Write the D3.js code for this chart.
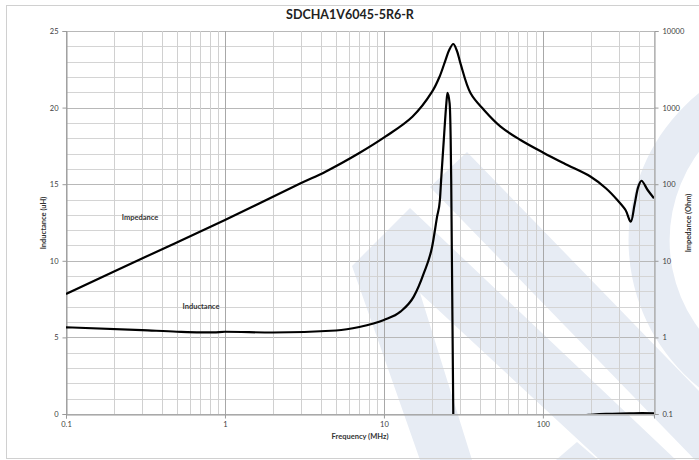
<!DOCTYPE html>
<html><head><meta charset="utf-8">
<script src="https://cdn.jsdelivr.net/npm/d3@7"></script>
<style>body{margin:0;background:#fff}svg{display:block;font-family:Lato,"Open Sans",sans-serif}</style>
</head><body><svg id="c" width="699" height="460"></svg>
<script>
const title = "SDCHA1V6045-5R6-R";
const xTicks = [0.1, 1, 10, 100];
const yLeftTicks = [0, 5, 10, 15, 20, 25];
const yRightTicks = [0.1, 1, 10, 100, 1000, 10000];
// Impedance (Ohm) vs frequency (MHz)
const impFreq = [0.1, 0.315, 1, 2.97, 4.29, 7, 10.2, 15.1, 20.1, 22.5, 24.4, 25.7, 27.3, 28.7, 30.3, 35.1, 42.6, 54.2, 72.3, 100.7, 138, 200, 250, 294, 331, 357, 377, 398, 417, 456, 500];
const impVal  = [3.69, 11.2, 34.1, 102, 145.5, 255, 417, 760, 1614, 2600, 4178, 5600, 6761, 5600, 3784, 1538, 931, 564, 378, 258, 184, 125, 88, 62.2, 46, 32.4, 53.5, 92, 111, 84, 65.5];
// Inductance (uH) vs frequency (MHz)
const indFreq = [0.1, 0.3, 0.5, 0.7, 0.85, 1, 2, 5, 7, 10, 12.7, 15.4, 17.8, 20.1, 21.6, 22.5, 22.9, 23.8, 24.7, 25.1, 25.9, 26.3, 26.5, 27.3, 28, 30, 40, 60, 100, 200, 250, 350, 420, 500];
const indVal  = [5.66, 5.48, 5.37, 5.33, 5.33, 5.37, 5.32, 5.45, 5.68, 6.14, 6.68, 7.66, 9.18, 10.92, 12.88, 13.97, 15.27, 17.88, 20.28, 20.97, 20.28, 17.88, 15.27, 0.2, -20, -18, -3, -1, -0.4, -0.05, 0.01, 0.04, 0.06, 0.05];

const svg = d3.select("#c");
const m = {l:66, t:31, r:654, b:414};
const x = d3.scaleLog().domain([0.1, 500]).range([m.l, m.r]);
const yL = d3.scaleLinear().domain([0, 25]).range([m.b, m.t]);
const yR = d3.scaleLog().domain([0.1, 10000]).range([m.b, m.t]);

// watermark
const wm = svg.append("g").attr("fill", "#e7ecf4");
wm.append("path").attr("d", "M352,266 L410,208 L676,460 L600,460 L420,293 L472,460 L420,460 Z");
wm.append("path").attr("d", "M430,187 L467,152 L699,391 L699,464 Z");
wm.append("path").attr("d", "M556,460 L577,442 L598,460 Z");
const ring = d3.arc().innerRadius(148).outerRadius(189).startAngle(0).endAngle(2*Math.PI);
wm.append("path").attr("d", ring()).attr("transform", "translate(817.6,240.3)");

// border
svg.append("rect").attr("x", 6.5).attr("y", 5.5).attr("width", 720).attr("height", 453).attr("fill", "none").attr("stroke", "#d0d0d0");

// grid
const grid = svg.append("g");
const minorY = d3.range(0, 26, 1);
grid.selectAll(".hy").data(minorY).join("line")
  .attr("x1", m.l).attr("x2", m.r)
  .attr("y1", d => Math.round(yL(d)) + 0.5).attr("y2", d => Math.round(yL(d)) + 0.5)
  .attr("stroke", d => d % 5 === 0 ? "#b8b8b8" : "#d4d4d4").attr("stroke-width", 1);
const minorX = [];
[0.1, 1, 10, 100].forEach(dec => { for (let k = 1; k <= 9; k++) { const v = dec * k; if (v <= 500 + 1e-9) minorX.push(v); } });
grid.selectAll(".vx").data(minorX).join("line")
  .attr("y1", m.t).attr("y2", m.b)
  .attr("x1", d => Math.round(x(d)) + 0.5).attr("x2", d => Math.round(x(d)) + 0.5)
  .attr("stroke", d => xTicks.some(t => Math.abs(t - d) < 1e-9) ? "#a8a8a8" : "#d0d0d0").attr("stroke-width", 1);

// axes
const fmt = d => String(d);
const axL = svg.append("g").attr("transform", `translate(${m.l + 0.5},0)`)
  .call(d3.axisLeft(yL).tickValues(yLeftTicks).tickSize(4).tickPadding(4));
const axR = svg.append("g").attr("transform", `translate(${m.r + 0.5},0)`)
  .call(d3.axisRight(yR).tickValues(yRightTicks).tickFormat(fmt).tickSize(4).tickPadding(4));
const axB = svg.append("g").attr("transform", `translate(0,${m.b + 0.5})`)
  .call(d3.axisBottom(x).tickValues(xTicks).tickFormat(fmt).tickSize(4).tickPadding(3));
[axL, axR, axB].forEach(a => {
  a.selectAll("path,line").attr("stroke", "#9a9a9a");
  a.selectAll("text").attr("fill", "#404040").style("font-size", "7.5px").style("font-family", "Lato, 'Open Sans', sans-serif");
});

// curves
svg.append("clipPath").attr("id", "clip").append("rect")
  .attr("x", m.l).attr("y", m.t - 5).attr("width", m.r - m.l).attr("height", m.b - m.t + 5);
const imp = impFreq.map((f, i) => [f, impVal[i]]);
const ind = indFreq.map((f, i) => [f, indVal[i]]);
const lineImp = d3.line().x(d => x(d[0])).y(d => yR(d[1])).curve(d3.curveCatmullRom.alpha(0.5));
const lineInd = d3.line().x(d => x(d[0])).y(d => yL(d[1])).curve(d3.curveMonotoneX);
const plot = svg.append("g").attr("clip-path", "url(#clip)");
plot.append("path").attr("d", lineImp(imp)).attr("fill", "none").attr("stroke", "#000").attr("stroke-width", 2.2).attr("stroke-linejoin", "round");
plot.append("path").attr("d", lineInd(ind)).attr("fill", "none").attr("stroke", "#000").attr("stroke-width", 2.2).attr("stroke-linejoin", "round");

// texts
svg.append("text").attr("x", 350).attr("y", 19).attr("text-anchor", "middle")
  .style("font-size", "12.5px").style("font-weight", "bold").attr("fill", "#222").text(title);
svg.append("text").attr("x", 140).attr("y", 220).attr("text-anchor", "middle")
  .style("font-size", "7.5px").style("font-weight", "bold").attr("fill", "#333").text("Impedance");
svg.append("text").attr("x", 201).attr("y", 308.5).attr("text-anchor", "middle")
  .style("font-size", "7.5px").style("font-weight", "bold").attr("fill", "#333").text("Inductance");
svg.append("text").attr("x", 360).attr("y", 439).attr("text-anchor", "middle")
  .style("font-size", "7.5px").style("font-weight", "bold").attr("fill", "#333").text("Frequency (MHz)");
svg.append("text").attr("transform", "translate(46,223) rotate(-90)").attr("text-anchor", "middle")
  .style("font-size", "7.5px").style("font-weight", "bold").attr("fill", "#333").text("Inductance (uH)");
svg.append("text").attr("transform", "translate(691,223) rotate(-90)").attr("text-anchor", "middle")
  .style("font-size", "7.5px").style("font-weight", "bold").attr("fill", "#333").text("Impedance (Ohm)");
</script></body></html>
